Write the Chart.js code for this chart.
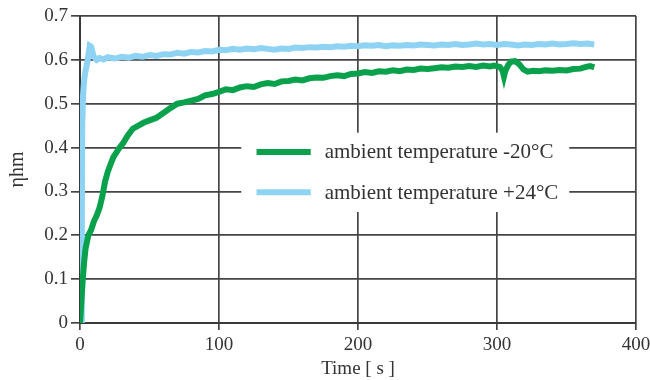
<!DOCTYPE html>
<html>
<head>
<meta charset="utf-8">
<script src="https://cdn.jsdelivr.net/npm/chart.js@4.4.1/dist/chart.umd.min.js"></script>
<style>
  body { margin: 0; background: #fff; }
  #wrap { width: 650px; height: 380px; }
</style>
</head>
<body>
<div id="wrap"><canvas id="myChart" width="650" height="380"></canvas></div>
<script>
// valores
const greenTime = [0, 1, 2, 3, 4, 5, 6, 8, 10, 12, 14, 16, 18, 20, 22, 24, 26, 28, 31, 34, 38, 42, 46, 50,
  55, 60, 65, 70, 75, 80, 85, 90, 95, 100, 105, 110, 115, 120, 125, 130, 135, 140, 145, 150, 155, 160,
  165, 170, 175, 180, 185, 190, 195, 200, 205, 210, 215, 220, 225, 230, 235, 240, 245, 250, 255, 260,
  265, 270, 275, 280, 285, 290, 295, 298, 302, 304, 305, 306, 308, 310, 313, 316, 319, 322, 326, 330,
  335, 340, 345, 350, 355, 360, 364, 367, 370];
const greenValue = [0, 0.05, 0.10, 0.14, 0.17, 0.185, 0.20, 0.212, 0.232, 0.245, 0.262, 0.288, 0.322, 0.345,
  0.362, 0.378, 0.388, 0.398, 0.41, 0.426, 0.443, 0.45, 0.457, 0.462, 0.468, 0.479, 0.49, 0.50, 0.503,
  0.507, 0.511, 0.519, 0.522, 0.527, 0.533, 0.531, 0.537, 0.54, 0.538, 0.544, 0.547, 0.545, 0.551, 0.552,
  0.555, 0.553, 0.558, 0.56, 0.559, 0.563, 0.565, 0.563, 0.568, 0.569, 0.572, 0.57, 0.574, 0.573, 0.576,
  0.574, 0.578, 0.577, 0.58, 0.579, 0.581, 0.583, 0.582, 0.585, 0.584, 0.586, 0.584, 0.587, 0.585, 0.587,
  0.584, 0.575, 0.562, 0.575, 0.588, 0.596, 0.597, 0.59, 0.578, 0.573, 0.575, 0.574, 0.576, 0.575, 0.577,
  0.576, 0.579, 0.58, 0.584, 0.586, 0.583];

const blueTime = [1, 1.3, 1.6, 2.2, 3, 4, 5, 6, 7, 8, 9, 10, 12, 14, 17, 20, 25, 30, 35, 40, 45, 50, 55, 60,
  65, 70, 75, 80, 85, 90, 95, 100, 105, 110, 115, 120, 125, 130, 135, 140, 145, 150, 155, 160, 165, 170,
  175, 180, 185, 190, 195, 200, 205, 210, 215, 220, 225, 230, 235, 240, 245, 250, 255, 260, 265, 270, 275,
  280, 285, 290, 295, 300, 305, 310, 315, 320, 325, 330, 335, 340, 345, 350, 355, 360, 365, 370];
const blueValue = [0, 0.2, 0.45, 0.52, 0.555, 0.575, 0.59, 0.61, 0.632, 0.63, 0.618, 0.607, 0.60, 0.604,
  0.601, 0.606, 0.603, 0.607, 0.605, 0.609, 0.607, 0.611, 0.609, 0.613, 0.612, 0.616, 0.614, 0.618, 0.617,
  0.62, 0.619, 0.623, 0.622, 0.625, 0.623, 0.626, 0.624, 0.627, 0.625, 0.623, 0.626, 0.625, 0.628, 0.627,
  0.629, 0.628, 0.63, 0.629, 0.631, 0.63, 0.632, 0.631, 0.633, 0.632, 0.634, 0.631, 0.633, 0.632, 0.634,
  0.633, 0.635, 0.634, 0.633, 0.635, 0.634, 0.636, 0.634, 0.635, 0.637, 0.635, 0.636, 0.634, 0.636, 0.635,
  0.633, 0.635, 0.634, 0.636, 0.635, 0.637, 0.635, 0.636, 0.638, 0.636, 0.637, 0.635];

const xTicks = [0, 100, 200, 300, 400];
const yTicks = [0, 0.1, 0.2, 0.3, 0.4, 0.5, 0.6, 0.7];
const seriesLabels = ['ambient temperature -20°C', 'ambient temperature +24°C'];
const seriesColors = ['#0aa14c', '#8fd3f4'];

const toPoints = (xs, ys) => xs.map((x, i) => ({ x: x, y: ys[i] }));

// legenda dentro da área do gráfico (caixa branca sobre a grade)
const boxLegend = {
  id: 'boxLegend',
  beforeDatasetsDraw(chart) {
    const { ctx, scales: { x, y } } = chart;
    const left = x.getPixelForValue(116), right = x.getPixelForValue(352);
    const top = y.getPixelForValue(0.434), bottom = y.getPixelForValue(0.253);
    ctx.save();
    ctx.fillStyle = '#fff';
    ctx.fillRect(left, top, right - left, bottom - top);
    const rows = [0.39, 0.298];
    ctx.font = "21px 'Liberation Serif'";
    ctx.textBaseline = 'middle';
    rows.forEach((v, i) => {
      const py = y.getPixelForValue(v);
      ctx.strokeStyle = seriesColors[i];
      ctx.lineWidth = 6;
      ctx.beginPath();
      ctx.moveTo(x.getPixelForValue(127), py);
      ctx.lineTo(x.getPixelForValue(166), py);
      ctx.stroke();
      ctx.fillStyle = '#333';
      ctx.fillText(seriesLabels[i], x.getPixelForValue(176), py + 1);
    });
    ctx.restore();
  }
};

const ctx = document.getElementById('myChart').getContext('2d');
const tickFont = { family: 'Liberation Serif', size: 19 };

new Chart(ctx, {
  type: 'line',
  data: {
    datasets: [
      {
        label: seriesLabels[0],
        data: toPoints(greenTime, greenValue),
        borderColor: seriesColors[0],
        borderWidth: 6,
        pointRadius: 0,
        tension: 0
      },
      {
        label: seriesLabels[1],
        data: toPoints(blueTime, blueValue),
        borderColor: seriesColors[1],
        borderWidth: 6,
        pointRadius: 0,
        tension: 0
      }
    ]
  },
  options: {
    responsive: false,
    animation: false,
    layout: { padding: { top: 16, right: 14, left: 0, bottom: 0 } },
    plugins: { legend: { display: false }, tooltip: { enabled: false } },
    scales: {
      x: {
        type: 'linear',
        min: 0, max: 400,
        afterBuildTicks: s => { s.ticks = xTicks.map(v => ({ value: v })); },
        afterFit: s => { s.height = 57; s.paddingRight = 0; s.paddingLeft = 0; },
        ticks: { font: tickFont, color: '#333', padding: 4, maxRotation: 0 },
        grid: { color: '#454545', lineWidth: 1.7, tickLength: 7, tickColor: '#454545' },
        border: { color: '#3a3a3a', width: 2 },
        title: {
          display: true, text: 'Time [ s ]', color: '#333',
          font: { family: 'Liberation Serif', size: 19 }, padding: { top: 0, bottom: 0 }
        }
      },
      y: {
        min: 0, max: 0.7,
        afterBuildTicks: s => { s.ticks = yTicks.map(v => ({ value: v })); },
        afterFit: s => { s.width = 80; },
        ticks: { font: tickFont, color: '#333', padding: 3, callback: v => String(Math.round(v * 10) / 10) },
        grid: { color: '#454545', lineWidth: 1.7, tickLength: 9, tickColor: '#454545' },
        border: { color: '#3a3a3a', width: 2 },
        title: {
          display: true, text: 'ηhm', color: '#333',
          font: { family: 'Liberation Serif', size: 20 }, padding: { top: 6, bottom: 0 }
        }
      }
    }
  },
  plugins: [boxLegend]
});
</script>
</body>
</html>
